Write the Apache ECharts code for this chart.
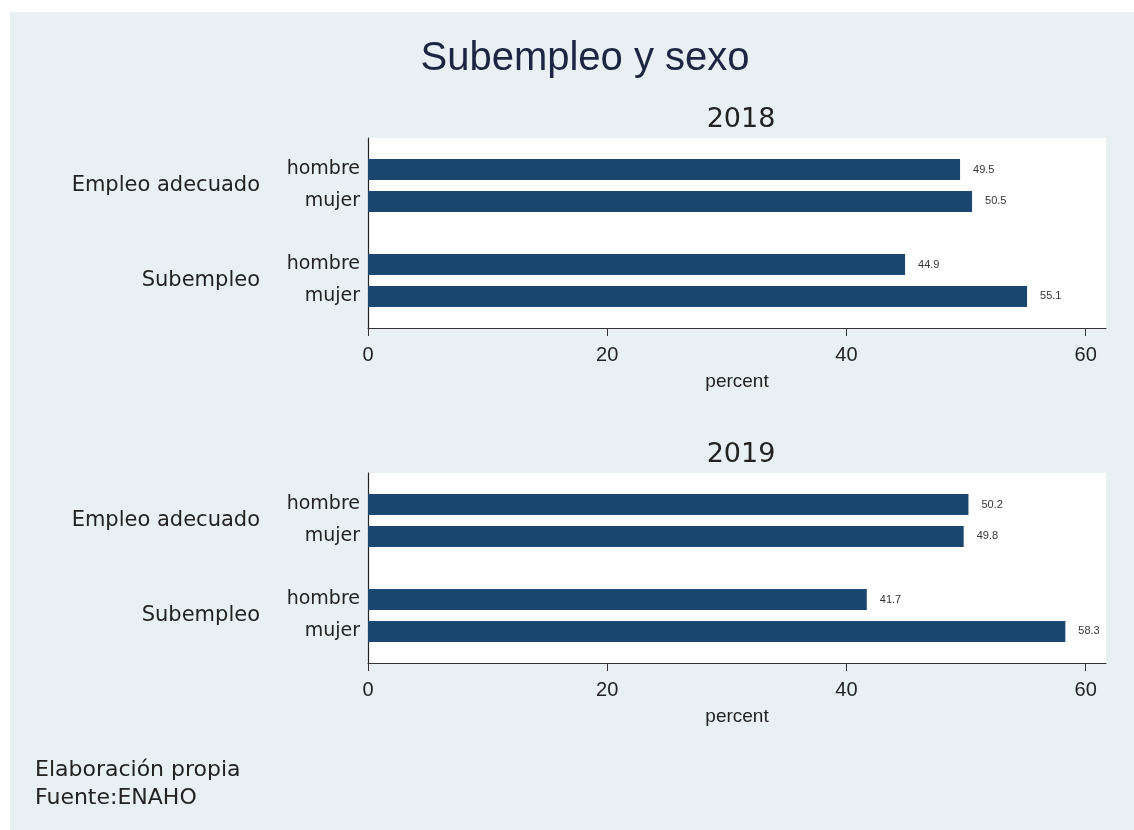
<!DOCTYPE html>
<html>
<head>
<meta charset="utf-8">
<script src="https://cdn.jsdelivr.net/npm/echarts@6/dist/echarts.min.js"></script>
<style>
html,body{margin:0;padding:0;background:#fff;}
#chart{width:1134px;height:830px;}
</style>
</head>
<body>
<div id="chart"></div>
<script>
// ---- data ----
const groups = ['Empleo adecuado', 'Subempleo'];
const sexes = ['hombre', 'mujer'];
const years = ['2018', '2019'];
const hombre2018 = [49.5, 44.9];
const mujer2018 = [50.5, 55.1];
const hombre2019 = [50.2, 41.7];
const mujer2019 = [49.8, 58.3];
const xTicks = [0, 20, 40, 60];
const xName = 'percent';
const mainTitle = 'Subempleo y sexo';
const notes = ['Elaboración propia', 'Fuente:ENAHO'];

// ---- styling ----
const BAR = '#1a476f';
const BG = '#e9f0f3';
const TXT = '#222';
const FONT = 'DejaVu Sans';

const panels = [
  { top: 138, height: 190, h: hombre2018, m: mujer2018 },
  { top: 473, height: 190, h: hombre2019, m: mujer2019 }
];

const grids = [], xAxes = [], yAxes = [], series = [], titles = [];
titles.push({
  text: mainTitle, left: 580, top: 34, textAlign: 'center',
  textStyle: { fontFamily: 'Liberation Sans', fontSize: 40, fontWeight: 'normal', color: '#1c2541' }
});
panels.forEach((p, i) => {
  grids.push({ left: 368, right: 28, top: p.top, height: p.height, show: true,
    backgroundColor: '#ffffff', borderWidth: 0 });
  titles.push({
    text: years[i], left: 736, top: p.top - 37, textAlign: 'center',
    textStyle: { fontFamily: FONT, fontSize: 27, fontWeight: 'normal', color: TXT }
  });
  xAxes.push({
    type: 'value', gridIndex: i, min: 0, max: 61.7, interval: 20,
    name: xName, nameLocation: 'middle', nameGap: 44,
    nameTextStyle: { fontFamily: 'Liberation Sans', fontSize: 19, color: TXT },
    axisLine: { show: true, lineStyle: { color: '#333', width: 1 } },
    axisTick: { show: true, length: 8, lineStyle: { color: '#333' }, customValues: xTicks },
    axisLabel: { fontFamily: 'Liberation Sans', fontSize: 20, color: TXT, margin: 17, customValues: xTicks },
    splitLine: { show: false }
  });
  // sex labels axis
  yAxes.push({
    type: 'category', gridIndex: i, data: groups, inverse: true, position: 'left',
    axisLine: { show: true, onZero: false, lineStyle: { color: '#222', width: 1.2 } },
    axisTick: { show: false },
    axisLabel: {
      margin: 8, align: 'right',
      formatter: () => sexes.map(s => '{s|' + s + '}').join('\n'),
      rich: { s: { fontFamily: FONT, fontSize: 19, color: TXT, lineHeight: 32, align: 'right' } }
    }
  });
  // group labels axis
  yAxes.push({
    type: 'category', gridIndex: i, data: groups, inverse: true, position: 'left',
    axisLine: { show: false }, axisTick: { show: false },
    axisLabel: { margin: 108, fontFamily: FONT, fontSize: 21, color: TXT }
  });
  const lbl = {
    show: true, position: 'right', distance: 13,
    fontFamily: 'Liberation Sans', fontSize: 11, color: '#333',
    formatter: (d) => d.value.toFixed(1)
  };
  series.push({
    type: 'bar', name: sexes[0], xAxisIndex: i, yAxisIndex: i * 2, data: p.h,
    barWidth: 21, barGap: '52%', itemStyle: { color: BAR }, label: lbl, silent: true
  });
  series.push({
    type: 'bar', name: sexes[1], xAxisIndex: i, yAxisIndex: i * 2, data: p.m,
    barWidth: 21, barGap: '52%', itemStyle: { color: BAR }, label: lbl, silent: true
  });
});

const chart = echarts.init(document.getElementById('chart'), null, { renderer: 'canvas' });
chart.setOption({
  animation: false,
  backgroundColor: '#ffffff',
  title: titles,
  grid: grids,
  xAxis: xAxes,
  yAxis: yAxes,
  series: series,
  graphic: [
    { type: 'rect', left: 10, top: 12, shape: { width: 1124, height: 818 }, style: { fill: BG }, z: -10, silent: true },
    { type: 'text', left: 35, top: 759, style: { text: notes[0], fontFamily: FONT, fontSize: 22, fill: TXT } },
    { type: 'text', left: 35, top: 787, style: { text: notes[1], fontFamily: FONT, fontSize: 22, fill: TXT } }
  ]
});
</script>
</body>
</html>
